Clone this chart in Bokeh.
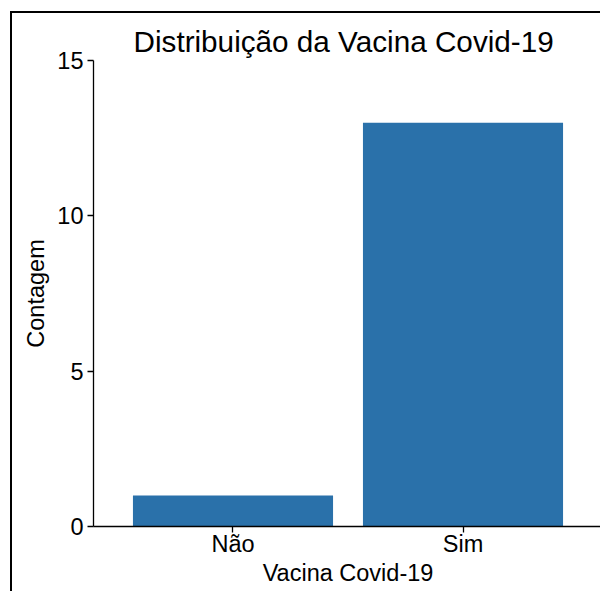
from bokeh.plotting import figure
from bokeh.models import FactorRange, Range1d, FixedTicker, ColumnDataSource
from bokeh.embed import file_html
from bokeh.resources import INLINE

categories = ["Não", "Sim"]
counts = [1, 13]
y_ticks = [0, 5, 10, 15]

FONT = "Liberation Sans"
BAR_COLOR = "#2a71aa"

source = ColumnDataSource(data=dict(cat=categories, count=counts))

p = figure(
    width=590, height=580,
    x_range=FactorRange(*categories, range_padding=0.1065),
    y_range=Range1d(0, 15),
    output_backend="svg", toolbar_location=None,
    min_border_left=81, min_border_right=0, min_border_top=47, min_border_bottom=67,
    title="Distribuição da Vacina Covid-19",
)
p.background_fill_color = "white"
p.border_fill_color = "white"
p.outline_line_color = None
p.styles = {
    "margin-left": "10px",
    "margin-top": "11px",
    "border-left": "2px solid black",
    "border-top": "2px solid black",
}

p.vbar(x="cat", top="count", width=0.87, source=source, color=BAR_COLOR, line_color=None)

p.title.text_font = FONT
p.title.text_font_size = "29.7px"
p.title.text_font_style = "normal"
p.title.align = "left"
p.title.offset = 40
p.title.text_color = "black"
p.title.standoff = 6

p.xgrid.grid_line_color = None
p.ygrid.grid_line_color = None

for ax in (p.xaxis[0], p.yaxis[0]):
    ax.axis_line_color = "black"
    ax.axis_line_width = 1.3
    ax.major_tick_line_color = "black"
    ax.major_tick_line_width = 1.3
    ax.major_tick_out = 6
    ax.major_tick_in = 0
    ax.minor_tick_line_color = None
    ax.major_label_text_font = FONT
    ax.major_label_text_font_size = "23.5px"
    ax.major_label_text_color = "black"
    ax.axis_label_text_font = FONT
    ax.axis_label_text_font_size = "23.5px"
    ax.axis_label_text_font_style = "normal"
    ax.axis_label_text_color = "black"

p.xaxis.axis_label = "Vacina Covid-19"
p.xaxis.major_label_standoff = -2
p.xaxis.axis_label_standoff = 0
p.xaxis.group_text_font_size = "0px"

p.yaxis.axis_label = "Contagem"
p.yaxis.ticker = FixedTicker(ticks=y_ticks)
p.yaxis.major_label_standoff = 4
p.yaxis.axis_label_standoff = 5

open("out.html", "w").write(file_html(p, INLINE))
